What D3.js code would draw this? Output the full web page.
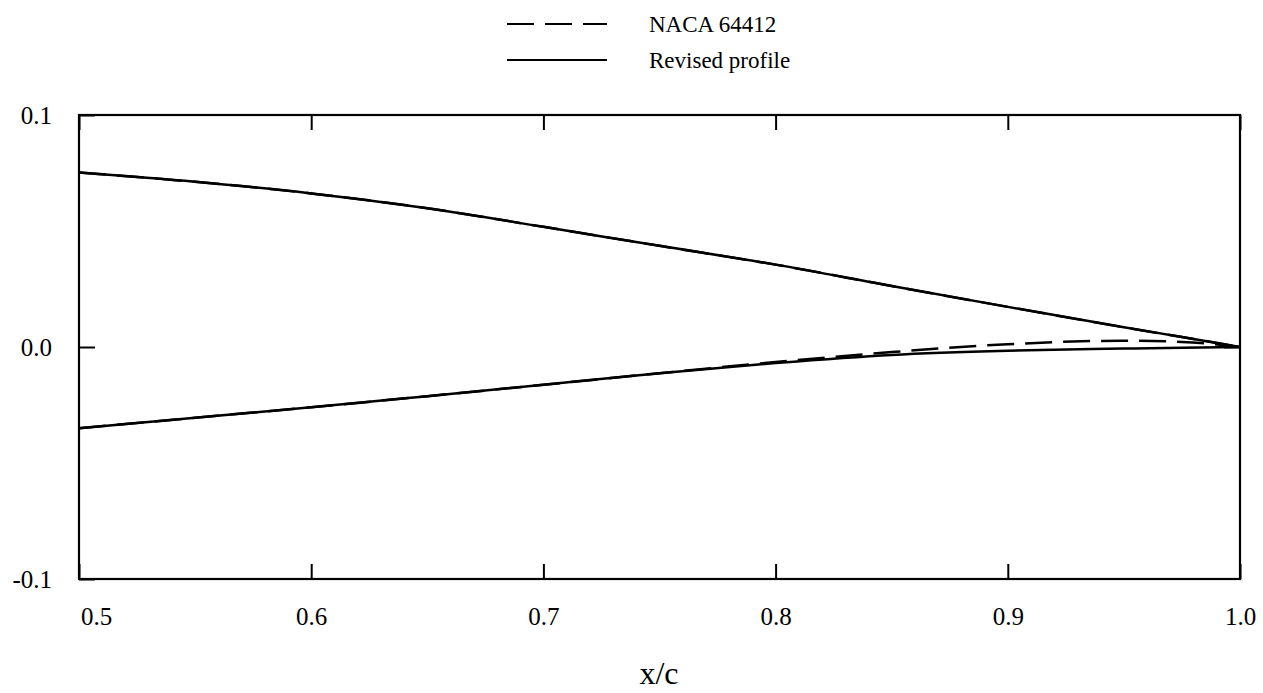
<!DOCTYPE html>
<html>
<head>
<meta charset="utf-8">
<script src="https://cdn.jsdelivr.net/npm/d3@7"></script>
<style>
    body { margin: 0; background: #fff; }
    text { font-family: "Liberation Serif", "Times New Roman", serif; fill: #000; }
</style>
</head>
<body>
<div id="chart"></div>
<script>
// profile data, trailing half of the airfoil
var xs = [0.5, 0.55, 0.6, 0.65, 0.7, 0.75, 0.8, 0.85, 0.9, 0.95, 0.975, 1.0];
var nacaUpper = [0.0752, 0.0712, 0.0662, 0.0598, 0.0518, 0.0436, 0.0355, 0.0263, 0.0173, 0.0085, 0.0043, 0.0];
var nacaLower = [-0.0350, -0.0305, -0.0260, -0.0212, -0.0163, -0.0113, -0.0065, -0.0022, 0.0012, 0.0027, 0.0022, 0.0];
var revUpper = [0.0752, 0.0712, 0.0662, 0.0598, 0.0518, 0.0436, 0.0355, 0.0263, 0.0173, 0.0085, 0.0043, 0.0];
var revLower = [-0.0350, -0.0305, -0.0260, -0.0212, -0.0163, -0.0113, -0.0069, -0.0034, -0.0016, -0.0007, -0.0003, 0.0];

var xTicks = [0.5, 0.6, 0.7, 0.8, 0.9, 1.0];
var yTicks = [-0.1, 0.0, 0.1];
var legendLabels = ["NACA 64412", "Revised profile"];

var svgWidth = 1263;
var svgHeight = 693;
var margin = { top: 115, right: 23, bottom: 114, left: 79 };
var width = svgWidth - margin.left - margin.right;
var height = svgHeight - margin.top - margin.bottom;

var svg = d3.select("#chart")
    .append("svg")
    .attr("width", svgWidth)
    .attr("height", svgHeight);

var chartGroup = svg.append("g")
    .attr("transform", `translate(${margin.left}, ${margin.top})`);

var xScale = d3.scaleLinear().domain([0.5, 1.0]).range([0, width]);
var yScale = d3.scaleLinear().domain([-0.1, 0.1]).range([height, 0]);

// plain hyphen for negatives, like the original
var fmt = d => d.toFixed(1);

// bottom axis, ticks pointing in
var bottomAxis = d3.axisBottom(xScale)
    .tickValues(xTicks)
    .tickSizeInner(-15)
    .tickSizeOuter(0)
    .tickPadding(28)
    .tickFormat(fmt);

var xAxis = chartGroup.append("g")
    .attr("transform", `translate(0, ${height})`)
    .call(bottomAxis);

xAxis.selectAll("text")
    .attr("x", d => d === 0.5 ? 17 : 0);

// top axis, no labels
chartGroup.append("g")
    .call(d3.axisTop(xScale).tickValues(xTicks).tickSizeInner(-15).tickSizeOuter(0).tickFormat(""));

var leftAxis = d3.axisLeft(yScale)
    .tickValues(yTicks)
    .tickSizeInner(-16)
    .tickSizeOuter(0)
    .tickPadding(27)
    .tickFormat(fmt);

var yAxis = chartGroup.append("g").call(leftAxis);

chartGroup.append("g")
    .attr("transform", `translate(${width}, 0)`)
    .call(d3.axisRight(yScale).tickValues([0]).tickSizeInner(-16).tickSizeOuter(0).tickFormat(""));

chartGroup.selectAll(".domain").remove();
chartGroup.selectAll(".tick line").attr("stroke", "#000").attr("stroke-width", 2);
chartGroup.selectAll(".tick text")
    .style("font-size", "25px")
    .style("font-family", "'Liberation Serif', serif");

// frame
chartGroup.append("rect")
    .attr("x", 0)
    .attr("y", 0)
    .attr("width", width)
    .attr("height", height)
    .attr("fill", "none")
    .attr("stroke", "#000")
    .attr("stroke-width", 2.2);

var line = d3.line()
    .x((d, i) => xScale(xs[i]))
    .y(d => yScale(d))
    .curve(d3.curveMonotoneX);

// NACA 64412 dashed, revised solid on top
[nacaUpper, nacaLower].forEach(function (series) {
    chartGroup.append("path")
        .attr("d", line(series))
        .attr("fill", "none")
        .attr("stroke", "#000")
        .attr("stroke-width", 2.5)
        .attr("stroke-dasharray", "27,11");
});

[revUpper, revLower].forEach(function (series) {
    chartGroup.append("path")
        .attr("d", line(series))
        .attr("fill", "none")
        .attr("stroke", "#000")
        .attr("stroke-width", 2.5);
});

// legend
var legend = svg.append("g");
legendLabels.forEach(function (label, i) {
    var ly = i === 0 ? 24 : 60;
    legend.append("line")
        .attr("x1", 507)
        .attr("x2", 607)
        .attr("y1", ly)
        .attr("y2", ly)
        .attr("stroke", "#000")
        .attr("stroke-width", 2)
        .attr("stroke-dasharray", i === 0 ? "27,11" : null);
    legend.append("text")
        .attr("x", 649)
        .attr("y", ly + 8)
        .style("font-size", "23px")
        .text(label);
});

// x axis title
svg.append("text")
    .attr("x", 659)
    .attr("y", 684)
    .attr("text-anchor", "middle")
    .style("font-size", "32px")
    .text("x/c");
</script>
</body>
</html>
